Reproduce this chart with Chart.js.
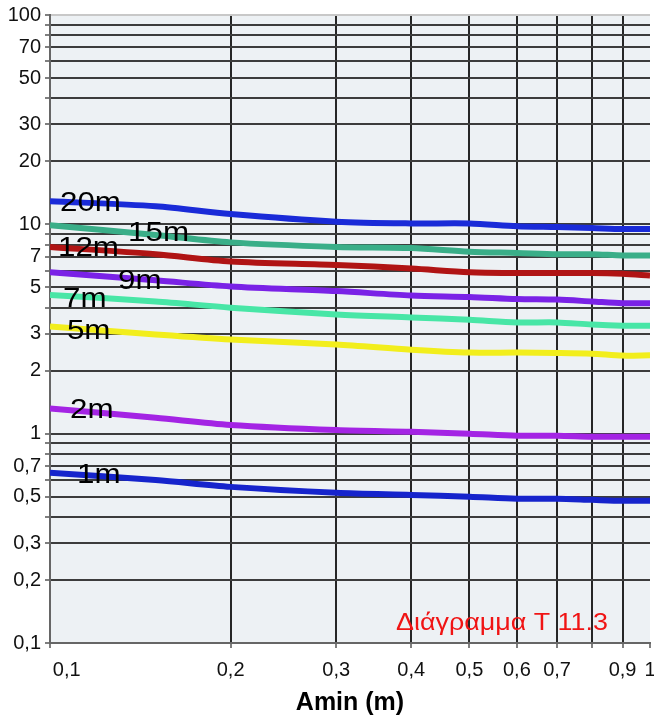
<!DOCTYPE html>
<html><head><meta charset="utf-8">
<script src="https://cdn.jsdelivr.net/npm/chart.js@4/dist/chart.umd.min.js"></script>
<style>html,body{margin:0;padding:0;background:#fff;}#wrap{width:654px;height:720px;}</style>
</head><body><div id="wrap"><canvas id="c" width="654" height="720"></canvas></div>
<script>
// ---- data ----
const amin = [0.1, 0.15, 0.2, 0.3, 0.4, 0.5, 0.6, 0.7, 0.8, 0.9, 1];
const s20m = [12.9, 12.2, 11.2, 10.3, 10.1, 10.1, 9.8, 9.7, 9.6, 9.5, 9.5];
const s15m = [9.9, 8.9, 8.2, 7.8, 7.7, 7.4, 7.3, 7.2, 7.2, 7.1, 7.1];
const s12m = [7.8, 7.2, 6.65, 6.4, 6.15, 5.9, 5.85, 5.85, 5.85, 5.8, 5.7];
const s9m  = [5.9, 5.4, 5.05, 4.8, 4.57, 4.5, 4.4, 4.37, 4.28, 4.2, 4.2];
const s7m  = [4.6, 4.28, 4.0, 3.71, 3.59, 3.5, 3.4, 3.4, 3.32, 3.28, 3.28];
const s5m  = [3.25, 2.98, 2.82, 2.67, 2.52, 2.44, 2.44, 2.43, 2.41, 2.36, 2.37];
const s2m  = [1.32, 1.19, 1.10, 1.04, 1.02, 1.0, 0.978, 0.978, 0.967, 0.967, 0.967];
const s1m  = [0.65, 0.6, 0.557, 0.522, 0.51, 0.50, 0.489, 0.489, 0.483, 0.478, 0.478];
const curveNames = ['20m', '15m', '12m', '9m', '7m', '5m', '2m', '1m'];
const xTickValues = [0.1, 0.2, 0.3, 0.4, 0.5, 0.6, 0.7, 0.8, 0.9, 1];
const xTickLabels = ['0,1', '0,2', '0,3', '0,4', '0,5', '0,6', '0,7', '', '0,9', '1'];
const yTickValues = [0.1,0.2,0.3,0.4,0.5,0.6,0.7,0.8,0.9,1,2,3,4,5,6,7,8,9,10,20,30,40,50,60,70,80,90,100];
const yTickLabels = ['0,1','0,2','0,3','','0,5','','0,7','','','1','2','3','','5','','7','','','10','20','30','','50','','70','','','100'];
const caption = 'Διάγραμμα Τ 11.3';
const axisTitle = 'Amin (m)';

// ---- styling ----
const FONT = '"Liberation Sans", Arial, Helvetica, sans-serif';
const seriesList = [s20m, s15m, s12m, s9m, s7m, s5m, s2m, s1m];
const colors = ['#1a2bd8', '#3aae88', '#b01414', '#7a22e6', '#48e6a6', '#f2ee1c', '#a424e4', '#1624cc'];
// label anchors in data space (left x, baseline y)
const labelAnchor = [[0.1039,11.54],[0.1349,8.29],[0.1031,7.03],[0.1298,4.89],[0.1051,4.05],[0.1067,2.82],[0.1080,1.19],[0.1109,0.583]];
const captionAnchor = [0.3773, 0.1154];
const NB = '\u00a0';

const bgPlugin = {
  id: 'bg',
  beforeDraw(chart) {
    const {ctx, chartArea: a} = chart;
    ctx.save(); ctx.fillStyle = '#edf1f4';
    ctx.fillRect(a.left, a.top, a.right - a.left, a.bottom - a.top);
    ctx.restore();
  }
};
const textPlugin = {
  id: 'texts',
  afterDatasetsDraw(chart) {
    const {ctx, scales: {x, y}} = chart;
    ctx.save();
    ctx.textAlign = 'left'; ctx.textBaseline = 'alphabetic';
    ctx.fillStyle = '#000'; ctx.font = '28px ' + FONT;
    curveNames.forEach((n, i) => {
      const px = x.getPixelForValue(labelAnchor[i][0]);
      const py = y.getPixelForValue(labelAnchor[i][1]);
      ctx.save(); ctx.translate(px, py); ctx.scale(1.12, 1); ctx.fillText(n, 0, 0); ctx.restore();
    });
    ctx.fillStyle = '#f01414'; ctx.font = '24px ' + FONT;
    const cx = x.getPixelForValue(captionAnchor[0]), cy = y.getPixelForValue(captionAnchor[1]);
    ctx.translate(cx, cy); ctx.scale(1.12, 1); ctx.fillText(caption, 0, 0);
    ctx.restore();
  }
};

new Chart(document.getElementById('c'), {
  type: 'line',
  data: {
    datasets: seriesList.map((s, i) => ({
      label: curveNames[i],
      data: amin.map((a, j) => ({x: a, y: s[j]})),
      borderColor: colors[i],
      borderWidth: 6,
      pointRadius: 0,
      tension: 0.3,
      fill: false
    }))
  },
  options: {
    responsive: false, animation: false, devicePixelRatio: 1,
    layout: {padding: {top: 15, right: 4, left: 0, bottom: 0}},
    plugins: {legend: {display: false}, tooltip: {enabled: false}},
    scales: {
      x: {
        type: 'logarithmic', min: 0.1, max: 1,
        afterBuildTicks: s => { s.ticks = xTickValues.map(v => ({value: v})); },
        afterFit: s => { s.height = 77; s.paddingLeft = 0; s.paddingRight = 0; },
        ticks: {autoSkip: false, maxRotation: 0, minRotation: 0, padding: 10, color: '#111',
          font: {family: FONT, size: 20},
          callback: (v, i) => i === 0 ? NB.repeat(6) + xTickLabels[i] : xTickLabels[i]},
        grid: {color: c => (c.tick && c.tick.value === 1) ? 'rgba(0,0,0,0)' : '#262626', lineWidth: 2,
          tickLength: 5, tickColor: '#555', tickWidth: 1.5},
        border: {color: '#666', width: 2},
        title: {display: true, text: axisTitle, color: '#000', font: {family: FONT, size: 25, weight: 'bold'},
          padding: {top: 0, bottom: 2}}
      },
      y: {
        type: 'logarithmic', min: 0.1, max: 100,
        afterBuildTicks: s => { s.ticks = yTickValues.map(v => ({value: v})); },
        afterFit: s => { s.width = 50; s.paddingTop = 0; s.paddingBottom = 0; },
        ticks: {autoSkip: false, padding: 4, color: '#111', font: {family: FONT, size: 20},
          callback: (v, i) => yTickLabels[i]},
        grid: {color: c => (c.tick && c.tick.value === 100) ? '#c8c8c8' : '#3c3c3c', lineWidth: 2,
          tickLength: 5, tickColor: '#555', tickWidth: 1.5},
        border: {color: '#666', width: 2}
      }
    }
  },
  plugins: [bgPlugin, textPlugin]
});
</script></body></html>
